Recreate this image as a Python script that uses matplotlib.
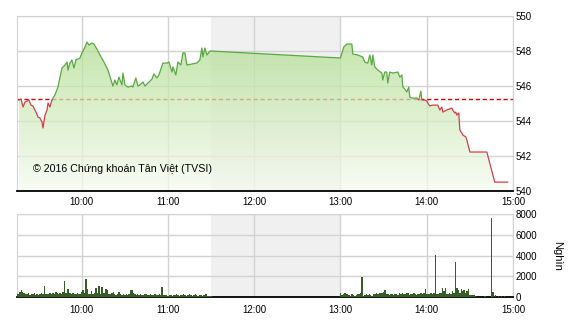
import numpy as np
import matplotlib.pyplot as plt
from matplotlib.patches import Rectangle
from matplotlib.colors import LinearSegmentedColormap

plt.rcParams['font.family'] = ['Liberation Sans', 'DejaVu Sans']

# index values, time in minutes after 09:00
price_time = [16.4, 17.8, 19.2, 20.6, 22.0, 23.3, 24.7, 26.1, 28.2, 29.6, 31.0, 32.4,
              33.1, 34.5, 35.9, 36.6, 37.9, 39.3, 41.4, 43.5, 46.3, 48.4, 49.8, 50.5,
              51.8, 53.2, 54.6, 56.0, 58.8, 60.2, 62.3, 63.7, 65.1, 67.1, 68.5, 70.6,
              72.7, 75.5, 78.3, 80.4, 81.7, 83.1, 84.5, 85.9, 88.0, 88.7, 90.1, 92.2,
              95.0, 95.6, 97.7, 99.1, 100.5, 102.6, 104.0, 106.1, 108.9, 110.2, 112.3,
              113.7, 116.5, 119.3, 120.7, 122.8, 123.5, 125.5, 126.9, 129.0, 130.4,
              131.8, 133.2, 136.7, 140.1, 142.2, 143.6, 144.3, 145.7, 147.1, 149.2,
              150.0,
              240.0, 242.3, 244.4, 247.9, 248.6, 252.1, 255.5, 256.9, 259.0, 260.4,
              261.8, 262.5, 263.9, 266.0, 268.8, 269.4, 270.8, 272.2, 272.9, 274.3,
              276.4, 279.9, 281.3, 282.7, 283.4, 284.7, 286.1, 287.5, 288.2, 289.6,
              291.7, 293.1, 294.5, 295.9, 296.6, 298.7, 300.1, 300.7, 302.1, 304.2,
              307.7, 309.1, 310.5, 311.2, 313.9, 316.0, 317.4, 318.1, 319.5, 320.2,
              320.9, 322.3, 323.0, 324.4, 325.1, 327.2, 327.9, 330.0, 341.8, 347.3,
              356.3]
price = [545.20, 545.26, 544.80, 545.09, 545.14, 545.20, 544.91, 544.86, 544.51, 544.23,
         544.17, 543.94, 543.60, 544.34, 544.63, 545.03, 544.80, 545.20, 545.49, 545.94,
         547.03, 547.20, 547.37, 546.91, 547.31, 547.49, 547.03, 547.49, 547.60, 547.89,
         548.23, 548.51, 548.34, 548.46, 548.40, 548.11, 547.77, 547.37, 546.91, 546.34,
         546.00, 546.34, 546.06, 546.51, 546.06, 546.74, 546.06, 545.94, 546.00, 545.94,
         546.46, 546.00, 546.06, 546.23, 546.00, 546.17, 546.40, 546.69, 546.46, 546.63,
         547.31, 547.31, 547.37, 546.80, 547.09, 546.63, 547.37, 547.20, 547.89, 547.89,
         547.20, 547.26, 547.31, 547.49, 548.17, 547.66, 548.17, 547.77, 548.00, 548.00,
         547.60, 548.23, 548.40, 548.40, 547.83, 547.77, 547.66, 547.37, 547.31, 547.77,
         547.20, 547.77, 547.09, 546.91, 546.74, 546.34, 546.80, 546.80, 546.17, 546.80,
         546.74, 546.80, 546.51, 546.63, 545.94, 545.83, 545.66, 545.94, 545.37, 545.31,
         545.31, 545.31, 545.20, 545.71, 545.20, 545.20, 545.14, 545.03, 544.86, 544.91,
         544.91, 544.63, 544.80, 544.51, 544.63, 544.69, 544.74, 544.63, 544.46, 544.51,
         544.34, 544.46, 543.49, 543.31, 543.20, 543.09, 542.91, 542.23, 542.23, 540.51,
         540.51]
ref_price = 545.25

# volume (thousand shares), one bar per minute from 09:15 and from 13:00
vol_am = [300, 250, 450, 670, 480, 380, 300, 260, 350, 200, 300, 250, 380, 220, 300, 180,
          250, 340, 280, 1050, 320, 250, 300, 380, 250, 420, 300, 480, 350, 260, 420, 300,
          520, 1570, 400, 740, 740, 380, 300, 420, 260, 300, 380, 260, 320, 500, 640, 350,
          1770, 740, 320, 260, 580, 300, 420, 860, 380, 1050, 300, 930, 420, 350, 740, 670,
          300, 260, 380, 510, 300, 200, 260, 510, 250, 200, 300, 180, 280, 220, 300, 700,
          640, 420, 300, 200, 260, 180, 300, 220, 150, 260, 300, 180, 220, 250, 150, 200,
          280, 180, 150, 250, 200, 990, 200, 180, 150, 120, 150, 180, 120, 200, 150, 250,
          180, 120, 220, 150, 250, 180, 120, 200, 260, 150, 120, 200, 250, 150, 120, 180,
          200, 120, 150, 300, 250, 120, 100, 80]
vol_pm = [380, 150, 250, 420, 300, 250, 200, 120, 250, 150, 100, 200, 250, 300, 350, 1950,
          120, 200, 300, 150, 250, 200, 120, 300, 250, 350, 300, 380, 420, 350, 450, 640,
          300, 250, 200, 300, 250, 150, 250, 300, 200, 350, 250, 420, 300, 250, 420, 380,
          200, 300, 250, 350, 300, 200, 300, 250, 350, 300, 420, 740, 250, 300, 250, 350,
          300, 400, 4030, 300, 250, 350, 420, 860, 600, 860, 300, 250, 400, 300, 600, 420,
          3360, 860, 700, 400, 800, 600, 670, 400, 600, 740, 200]
vol_late_time = [331, 332, 333, 334, 340, 341, 345, 346, 348, 350, 352, 354]
vol_late = [190, 150, 200, 120, 130, 130, 7600, 480, 150, 130, 100, 130]

hour_ticks = [60, 120, 180, 240, 300, 360]
hour_labels = ['10:00', '11:00', '12:00', '13:00', '14:00', '15:00']
price_ticks = [540, 542, 544, 546, 548, 550]
vol_ticks = [0, 2000, 4000, 6000, 8000]

grid_c = '#d2d2d2'
fig = plt.figure(figsize=(5.7, 3.2), dpi=100)
ax = fig.add_axes([0.0298, 0.403, 0.8702, 0.547])
axv = fig.add_axes([0.0298, 0.072, 0.8702, 0.259])

for a in (ax, axv):
    a.axvspan(150, 240, color='#f0f0f0', zorder=0.5, lw=0)
    a.set_xlim(15, 360)
    a.set_xticks(hour_ticks)
    a.set_xticklabels(hour_labels)
    a.grid(True, color=grid_c, lw=1)
    a.set_axisbelow(True)
    a.yaxis.tick_right()
    a.tick_params(length=0, labelsize=7, pad=2)
    for s in ('top', 'left', 'right'):
        a.spines[s].set_color(grid_c)
    a.spines['bottom'].set_color('black')
    a.spines['bottom'].set_linewidth(1.3)
ax.tick_params(axis='x', pad=4)
axv.tick_params(axis='x', pad=6)

# price panel
ax.axhline(ref_price, color='#cc0000', lw=1, ls=(0, (3, 2)), zorder=1.5)
poly = ax.fill_between(price_time, price, 540, color='none', lw=0)
cmap = LinearSegmentedColormap.from_list('g', ['#f6fbf1', '#a6d880'])
grad = np.linspace(0, 1, 256).reshape(-1, 1)
im = ax.imshow(grad, extent=[15, 360, 540, 550], origin='lower', cmap=cmap,
               aspect='auto', alpha=0.75, zorder=2)
im.set_clip_path(poly.get_paths()[0], transform=ax.transData)

up = ax.plot(price_time, price, color='#5aa845', lw=0.9, zorder=3)[0]
dn = ax.plot(price_time, price, color='#d0404c', lw=0.9, zorder=3)[0]
up.set_clip_path(Rectangle((15, ref_price), 345, 10, transform=ax.transData))
dn.set_clip_path(Rectangle((15, 530), 345, ref_price - 530, transform=ax.transData))

ax.set_xlim(15, 360)
ax.set_ylim(540, 550)
ax.set_yticks(price_ticks)
ax.text(0.032, 0.126, '\u00a9 2016 Ch\u1ee9ng kho\u00e1n T\u00e2n Vi\u1ec7t (TVSI)',
        transform=ax.transAxes, fontsize=7.7, va='center', ha='left', zorder=4)

# volume panel
bar_c = '#365f27'
axv.bar(np.arange(15, 15 + len(vol_am)), vol_am, width=1.0, color=bar_c, lw=0, zorder=3)
axv.bar(np.arange(240, 240 + len(vol_pm)), vol_pm, width=1.0, color=bar_c, lw=0, zorder=3)
axv.bar(vol_late_time, vol_late, width=1.0, color=bar_c, lw=0, zorder=3)
axv.set_ylim(0, 8000)
axv.set_yticks(vol_ticks)
fig.text(0.977, 0.2, 'Ngh\u00ecn', rotation=270, fontsize=8, va='center', ha='center')

fig.savefig('out.png', dpi=100)
